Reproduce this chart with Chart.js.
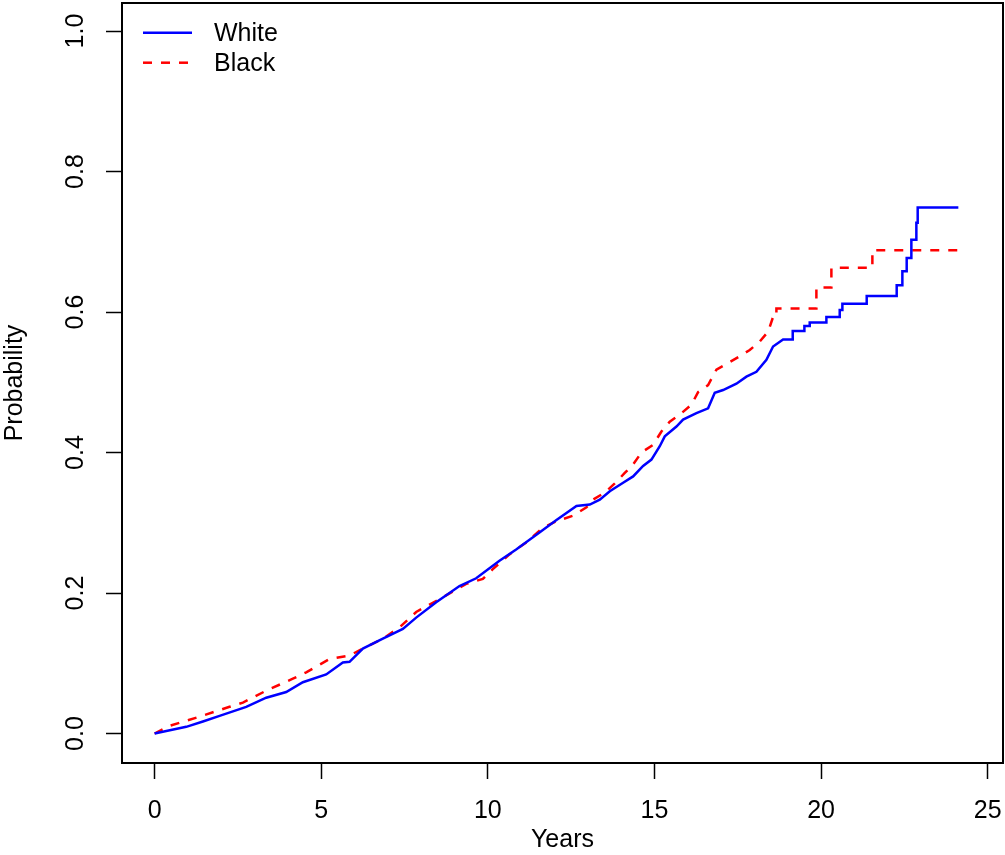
<!DOCTYPE html>
<html>
<head>
<meta charset="utf-8">
<script src="https://cdn.jsdelivr.net/npm/chart.js@4"></script>
<style>
  html, body { margin: 0; padding: 0; background: #fff; }
  #wrap { width: 1005px; height: 855px; }
</style>
</head>
<body>
<div id="wrap"><canvas id="kmChart" width="1005" height="855"></canvas></div>
<script>
// cumulative probability curves
const whiteYears = [0, 0.95, 1.45, 1.95, 2.75, 3.35, 3.95, 4.45, 5.15, 5.65, 5.85, 6.25, 6.85, 7.45, 7.85,
  8.45, 9.15, 9.65, 10.35, 10.85, 11.55, 12.06, 12.66, 13.06, 13.36, 13.66, 14.06, 14.36, 14.66, 14.91,
  15.16, 15.31, 15.66, 15.86, 16.26, 16.61, 16.81, 17.06, 17.46, 17.76, 18.06, 18.36, 18.56, 18.86,
  19.15, 19.15, 19.5, 19.5, 19.66, 19.66, 20.16, 20.16, 20.56, 20.56, 20.64, 20.64, 21.37, 21.37,
  22.27, 22.27, 22.44, 22.44, 22.57, 22.57, 22.71, 22.71, 22.86, 22.86, 22.9, 22.9, 24.12];
const whiteProb = [0, 0.0095, 0.017, 0.025, 0.038, 0.051, 0.059, 0.073, 0.084, 0.101, 0.102, 0.121, 0.135, 0.149, 0.165,
  0.187, 0.21, 0.221, 0.246, 0.262, 0.286, 0.304, 0.324, 0.326, 0.333, 0.345, 0.357, 0.366, 0.381, 0.39,
  0.409, 0.423, 0.437, 0.447, 0.456, 0.463, 0.485, 0.489, 0.498, 0.508, 0.515, 0.532, 0.551, 0.561,
  0.561, 0.573, 0.573, 0.58, 0.58, 0.585, 0.585, 0.593, 0.593, 0.603, 0.603, 0.612, 0.612, 0.623,
  0.623, 0.638, 0.638, 0.658, 0.658, 0.677, 0.677, 0.703, 0.703, 0.727, 0.727, 0.749, 0.749];

const blackYears = [0, 0.45, 1.35, 2.25, 2.65, 3.35, 4.15, 4.55, 5.25, 5.85, 6.25, 6.85, 7.35, 7.85, 8.65,
  9.35, 9.85, 10.15, 10.65, 11.15, 11.65, 12.05, 12.55, 12.96, 13.16, 13.51, 13.81, 14.11, 14.36, 14.61,
  14.96, 15.21, 15.46, 15.76, 16.11, 16.31, 16.61, 16.86, 17.16, 17.56, 17.86, 18.16, 18.41, 18.56,
  18.66, 18.66, 19.86, 19.86, 20.31, 20.31, 21.54, 21.54, 24.21];
const blackProb = [0, 0.011, 0.024, 0.038, 0.044, 0.061, 0.078, 0.087, 0.106, 0.111, 0.121, 0.135, 0.151, 0.173, 0.194,
  0.213, 0.22, 0.234, 0.255, 0.272, 0.293, 0.302, 0.31, 0.322, 0.333, 0.343, 0.356, 0.371, 0.383, 0.4,
  0.411, 0.43, 0.444, 0.454, 0.468, 0.486, 0.496, 0.518, 0.526, 0.537, 0.546, 0.558, 0.572, 0.593,
  0.593, 0.605, 0.605, 0.635, 0.635, 0.663, 0.663, 0.688, 0.688];

const xTicks = [0, 5, 10, 15, 20, 25];
const yTicks = [0, 0.2, 0.4, 0.6, 0.8, 1.0];

const FONT = '"Liberation Sans", Arial, Helvetica, sans-serif';
const FS = 25;

function toPoints(xs, ys) {
    return xs.map((x, i) => ({ x: x, y: ys[i] }));
}

// box round the plot region, as in base R
const boxPlugin = {
    id: 'plotBox',
    afterDraw(chart) {
        const { ctx, chartArea: a } = chart;
        ctx.save();
        ctx.strokeStyle = '#000';
        ctx.lineWidth = 2;
        ctx.strokeRect(a.left, a.top, a.right - a.left, a.bottom - a.top);
        ctx.restore();
    }
};

// legend inside the top-left corner, no frame
const legendPlugin = {
    id: 'innerLegend',
    afterDraw(chart) {
        const ctx = chart.ctx;
        const rows = [32.7, 62.7];
        ctx.save();
        ctx.font = FS + 'px ' + FONT;
        ctx.textBaseline = 'middle';
        ctx.textAlign = 'left';
        chart.data.datasets.forEach((ds, i) => {
            const y = rows[i];
            ctx.strokeStyle = ds.borderColor;
            ctx.lineWidth = ds.borderWidth;
            ctx.setLineDash(ds.borderDash || []);
            ctx.beginPath();
            ctx.moveTo(143, y);
            ctx.lineTo(192, y);
            ctx.stroke();
            ctx.setLineDash([]);
            ctx.fillStyle = '#000';
            ctx.fillText(ds.label, 214, y + 1);
        });
        ctx.restore();
    }
};

const ctx = document.getElementById('kmChart').getContext('2d');
new Chart(ctx, {
    type: 'line',
    data: {
        datasets: [{
            label: 'White',
            data: toPoints(whiteYears, whiteProb),
            borderColor: '#0000FF',
            borderWidth: 2.5,
            pointRadius: 0,
            fill: false,
            tension: 0
        }, {
            label: 'Black',
            data: toPoints(blackYears, blackProb),
            borderColor: '#FF0000',
            borderWidth: 2.5,
            borderDash: [9, 9],
            pointRadius: 0,
            fill: false,
            tension: 0
        }]
    },
    options: {
        responsive: false,
        animation: false,
        devicePixelRatio: 1,
        layout: {
            padding: { top: 3, right: 2, left: 0, bottom: 0 }
        },
        plugins: {
            legend: { display: false },
            tooltip: { enabled: false }
        },
        scales: {
            x: {
                type: 'linear',
                min: -0.978,
                max: 25.46,
                afterBuildTicks: (scale) => { scale.ticks = xTicks.map(v => ({ value: v })); },
                afterFit: (scale) => {
                    scale.height = 92;
                    scale.paddingLeft = 0;
                    scale.paddingRight = 0;
                },
                grid: {
                    drawOnChartArea: false,
                    drawTicks: true,
                    tickLength: 16,
                    tickColor: '#000',
                    tickWidth: 1.5
                },
                border: { display: false },
                ticks: {
                    color: '#000',
                    font: { family: FONT, size: FS },
                    padding: 17,
                    maxRotation: 0,
                    minRotation: 0,
                    callback: (v) => String(v)
                },
                title: {
                    display: true,
                    text: 'Years',
                    color: '#000',
                    font: { family: FONT, size: FS },
                    padding: 0
                }
            },
            y: {
                type: 'linear',
                min: -0.042,
                max: 1.04,
                afterBuildTicks: (scale) => { scale.ticks = yTicks.map(v => ({ value: v })); },
                afterFit: (scale) => {
                    scale.width = 122;
                    scale.paddingTop = 0;
                    scale.paddingBottom = 0;
                },
                grid: {
                    drawOnChartArea: false,
                    drawTicks: true,
                    tickLength: 16,
                    tickColor: '#000',
                    tickWidth: 1.5
                },
                border: { display: false },
                ticks: {
                    color: '#000',
                    font: { family: FONT, size: FS },
                    padding: 12.5,
                    minRotation: 90,
                    maxRotation: 90,
                    crossAlign: 'center',
                    callback: (v) => v.toFixed(1)
                },
                title: {
                    display: true,
                    text: 'Probability',
                    color: '#000',
                    font: { family: FONT, size: FS },
                    padding: 0
                }
            }
        }
    },
    plugins: [boxPlugin, legendPlugin]
});
</script>
</body>
</html>
